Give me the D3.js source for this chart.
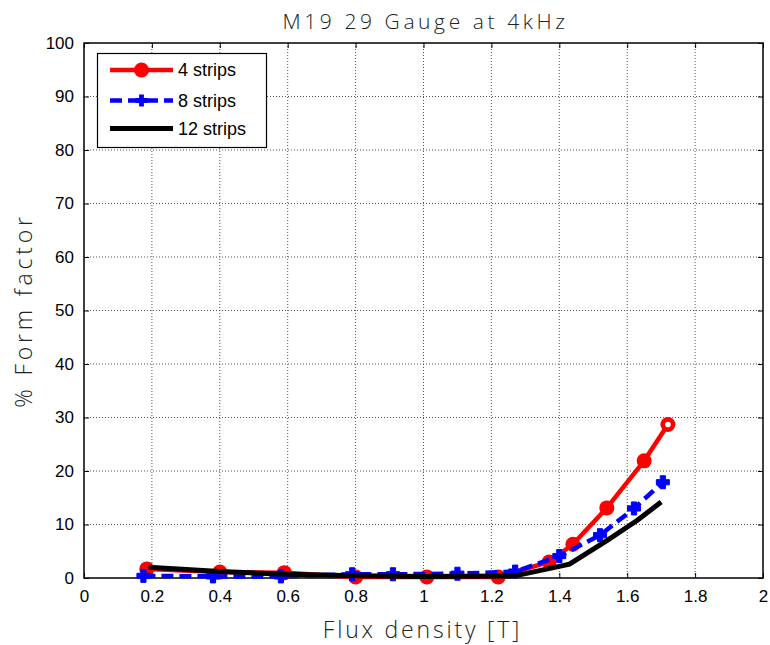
<!DOCTYPE html>
<html>
<head>
<meta charset="utf-8">
<script src="https://cdn.jsdelivr.net/npm/d3@7"></script>
<style>
  html, body { margin: 0; padding: 0; background: #fff; }
  svg { display: block; }
</style>
</head>
<body>
<svg id="chart" width="770" height="645"></svg>
<script>
// Form factor vs. flux density, M19 29 gauge steel at 4 kHz
const titleText = "M19 29 Gauge at 4kHz";
const xLabel = "Flux density [T]";
const yLabel = "% Form factor";

const xTicks = [0, 0.2, 0.4, 0.6, 0.8, 1, 1.2, 1.4, 1.6, 1.8, 2];
const yTicks = [0, 10, 20, 30, 40, 50, 60, 70, 80, 90, 100];

// 4 strips
const flux4 = [0.185, 0.40, 0.59, 0.80, 1.01, 1.22, 1.37, 1.44, 1.54, 1.65, 1.72];
const ff4   = [1.7, 1.1, 1.0, 0.2, 0.2, 0.2, 3.0, 6.3, 13.1, 21.9, 28.7];

// 8 strips
const flux8 = [0.175, 0.38, 0.58, 0.79, 0.91, 1.10, 1.27, 1.40, 1.52, 1.62, 1.705];
const ff8   = [0.4, 0.3, 0.3, 0.7, 0.7, 0.8, 1.2, 4.1, 8.0, 13.0, 17.9];

// 12 strips
const flux12 = [0.19, 0.40, 0.60, 0.80, 1.00, 1.27, 1.43, 1.54, 1.63, 1.70];
const ff12   = [2.0, 1.2, 0.7, 0.4, 0.3, 0.4, 2.6, 7.0, 10.8, 14.2];

const seriesNames = ["4 strips", "8 strips", "12 strips"];

const svg = d3.select("#chart");
const plot = { left: 84, right: 763, top: 43, bottom: 578 };

const x = d3.scaleLinear().domain([0, 2]).range([plot.left, plot.right]);
const y = d3.scaleLinear().domain([0, 100]).range([plot.bottom, plot.top]);

const tickFont = "Liberation Sans, Arial, sans-serif";
const thinFont = "'Open Sans', 'Lato', sans-serif";

// grid
const grid = svg.append("g");
grid.selectAll("line.gx").data(xTicks.slice(1, -1)).join("line")
  .attr("x1", d => x(d)).attr("x2", d => x(d))
  .attr("y1", plot.top).attr("y2", plot.bottom)
  .attr("stroke", "#555").attr("stroke-width", 1).attr("stroke-dasharray", "1,2");
grid.selectAll("line.gy").data(yTicks.slice(1, -1)).join("line")
  .attr("y1", d => y(d)).attr("y2", d => y(d))
  .attr("x1", plot.left).attr("x2", plot.right)
  .attr("stroke", "#555").attr("stroke-width", 1).attr("stroke-dasharray", "1,2");

// axes with inward ticks on all four sides
const fmt = d => String(d);
const axB = svg.append("g").attr("transform", `translate(0,${plot.bottom})`)
  .call(d3.axisBottom(x).tickValues(xTicks).tickFormat(fmt).tickSize(-5).tickSizeOuter(0).tickPadding(12));
const axT = svg.append("g").attr("transform", `translate(0,${plot.top})`)
  .call(d3.axisTop(x).tickValues(xTicks).tickFormat("").tickSize(-5).tickSizeOuter(0));
const axL = svg.append("g").attr("transform", `translate(${plot.left},0)`)
  .call(d3.axisLeft(y).tickValues(yTicks).tickFormat(fmt).tickSize(-5).tickSizeOuter(0).tickPadding(10));
const axR = svg.append("g").attr("transform", `translate(${plot.right},0)`)
  .call(d3.axisRight(y).tickValues(yTicks).tickFormat("").tickSize(-5).tickSizeOuter(0));
[axB, axT, axL, axR].forEach(a => {
  a.select(".domain").remove();
  a.selectAll("line").attr("stroke", "#000").attr("stroke-width", 1);
  a.selectAll("text").attr("font-family", tickFont).attr("font-size", 17).attr("fill", "#000");
});

// axes box
svg.append("rect")
  .attr("x", plot.left).attr("y", plot.top)
  .attr("width", plot.right - plot.left).attr("height", plot.bottom - plot.top)
  .attr("fill", "none").attr("stroke", "#000").attr("stroke-width", 1.5);

const line = d3.line().x(d => x(d[0])).y(d => y(d[1]));
const zip = (a, b) => a.map((v, i) => [v, b[i]]);

const plusPath = s => {
  const a = s / 2, w = s / 5;
  return `M${-w},${-a}H${w}V${-w}H${a}V${w}H${w}V${a}H${-w}V${w}H${-a}V${-w}H${-w}Z`;
};

// 4 strips: red with filled circles
const d4 = zip(flux4, ff4);
svg.append("path").datum(d4).attr("d", line)
  .attr("fill", "none").attr("stroke", "#ff0000").attr("stroke-width", 4.5).attr("stroke-linejoin", "round");
svg.append("g").selectAll("circle").data(d4).join("circle")
  .attr("cx", d => x(d[0])).attr("cy", d => y(d[1])).attr("r", 7.5)
  .attr("fill", "#ff0000");
// the final marker shows a light centre
const last4 = d4[d4.length - 1];
svg.append("circle").attr("cx", x(last4[0])).attr("cy", y(last4[1])).attr("r", 2.8).attr("fill", "#fff");

// 8 strips: blue dashed with plus markers
const d8 = zip(flux8, ff8);
svg.append("path").datum(d8).attr("d", line)
  .attr("fill", "none").attr("stroke", "#0000ff").attr("stroke-width", 4.5)
  .attr("stroke-dasharray", "12,6");
svg.append("g").selectAll("path").data(d8).join("path")
  .attr("transform", d => `translate(${x(d[0])},${y(d[1])})`)
  .attr("d", plusPath(13)).attr("fill", "#0000ff").attr("stroke", "#0000ff").attr("stroke-width", 1);

// 12 strips: black solid
const d12 = zip(flux12, ff12);
svg.append("path").datum(d12).attr("d", line)
  .attr("fill", "none").attr("stroke", "#000").attr("stroke-width", 5).attr("stroke-linejoin", "miter");

// legend
const lg = svg.append("g");
lg.append("rect").attr("x", 97.5).attr("y", 53.5).attr("width", 169).attr("height", 94)
  .attr("fill", "#fff").attr("stroke", "#000").attr("stroke-width", 1.2);
const rowsY = [70, 100.5, 128.5];
const lx1 = 110, lx2 = 173, lmid = (lx1 + lx2) / 2;
lg.append("line").attr("x1", lx1).attr("x2", lx2).attr("y1", rowsY[0]).attr("y2", rowsY[0])
  .attr("stroke", "#ff0000").attr("stroke-width", 4.5);
lg.append("circle").attr("cx", lmid).attr("cy", rowsY[0]).attr("r", 7.5).attr("fill", "#ff0000");
lg.append("line").attr("x1", lx1).attr("x2", lx2).attr("y1", rowsY[1]).attr("y2", rowsY[1])
  .attr("stroke", "#0000ff").attr("stroke-width", 4.5).attr("stroke-dasharray", "12,6");
lg.append("path").attr("transform", `translate(${lmid},${rowsY[1]})`).attr("d", plusPath(12)).attr("fill", "#0000ff");
lg.append("line").attr("x1", lx1).attr("x2", lx2).attr("y1", rowsY[2]).attr("y2", rowsY[2])
  .attr("stroke", "#000").attr("stroke-width", 5);
lg.selectAll("text").data(seriesNames).join("text")
  .attr("x", 178).attr("y", (d, i) => rowsY[i]).attr("dy", "0.36em")
  .attr("font-family", tickFont).attr("font-size", 18).attr("fill", "#000").text(d => d);

// titles
svg.append("text").attr("x", (plot.left + plot.right) / 2 + 2).attr("y", 29)
  .attr("text-anchor", "middle").attr("font-family", thinFont).attr("font-weight", 300)
  .attr("font-size", 21).attr("letter-spacing", 3.6).attr("fill", "#222").text(titleText);
svg.append("text").attr("x", (plot.left + plot.right) / 2 - 1).attr("y", 638)
  .attr("text-anchor", "middle").attr("font-family", thinFont).attr("font-weight", 300)
  .attr("font-size", 23).attr("letter-spacing", 2.8).attr("fill", "#222").text(xLabel);
svg.append("text").attr("transform", `translate(32,${(plot.top + plot.bottom) / 2}) rotate(-90)`)
  .attr("text-anchor", "middle").attr("font-family", thinFont).attr("font-weight", 300)
  .attr("font-size", 23).attr("letter-spacing", 3.8).attr("fill", "#222").text(yLabel);
</script>
</body>
</html>
